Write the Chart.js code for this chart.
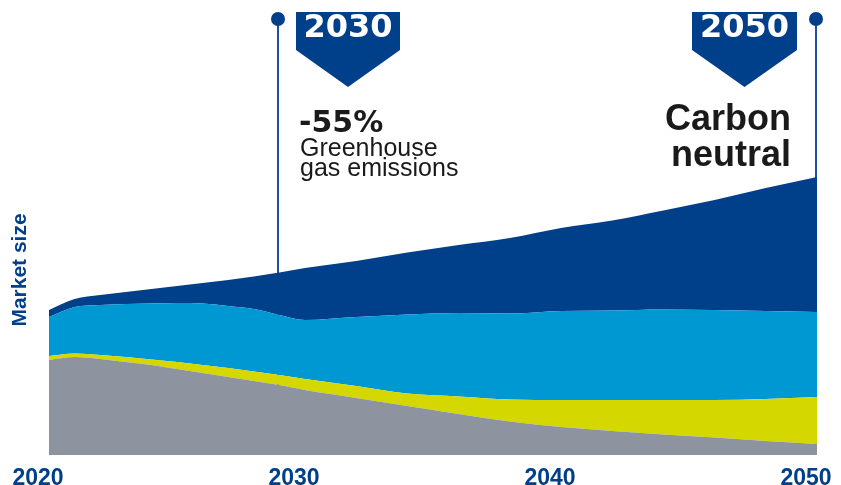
<!DOCTYPE html>
<html>
<head>
<meta charset="utf-8">
<script src="https://cdn.jsdelivr.net/npm/chart.js@4"></script>
<style>
  html, body { margin: 0; padding: 0; background: #ffffff; }
  #wrap { width: 841px; height: 485px; position: relative; }
</style>
</head>
<body>
<div id="wrap"><canvas id="c" width="841" height="485"></canvas></div>
<script>
// ---- data (market size, arbitrary units) ----
const years      = [2020, 2021, 2022, 2023, 2024, 2025, 2026, 2027, 2028, 2029, 2030, 2032, 2034, 2036, 2038, 2040, 2042, 2044, 2046, 2048, 2050];
const greySeries = [95, 98, 96, 93, 90, 86, 82, 78, 74, 70, 65, 57, 49, 41, 33.5, 28, 24, 20.5, 17.5, 14, 11];
const yellowSeries = [4, 3.5, 4, 5, 5.5, 7, 8, 9, 9.5, 10, 11, 12, 12.5, 17.5, 22, 27, 31, 34.5, 37.5, 42, 47];
const lightBlueSeries = [39, 46.5, 50, 53, 56, 59, 61.5, 62, 62.5, 60, 59, 69, 79, 83.5, 86, 89, 89.5, 90.5, 90, 88, 85];
const darkBlueSeries = [7, 8, 10, 12, 14.5, 17, 20.5, 26, 32.5, 42.5, 52, 56, 62, 68, 75.5, 83, 90, 99, 110, 123, 135];
const tickYears  = [2020, 2030, 2040, 2050];
const milestoneYears = [2029, 2050];
const milestoneLabels = ['2030', '2050'];
const axisTitle = 'Market size';

const DARK = 'rgb(0,63,138)';
const toPts = arr => years.map((yr, i) => ({ x: yr, y: arr[i] }));

const annotations = {
  id: 'annotations',
  beforeDatasetsDraw(chart) {
    const ctx = chart.ctx, xs = chart.scales.x, a = chart.chartArea;
    ctx.save();
    ctx.strokeStyle = 'rgb(30,80,160)';
    ctx.lineWidth = 2;
    milestoneYears.forEach(yr => {
      const x = Math.round(xs.getPixelForValue(yr)) - 1;
      ctx.beginPath();
      ctx.moveTo(x, 19);
      ctx.lineTo(x, a.bottom - 2);
      ctx.stroke();
    });
    ctx.restore();
  },
  afterDraw(chart) {
    const ctx = chart.ctx, xs = chart.scales.x;
    ctx.save();
    ctx.fillStyle = DARK;
    milestoneYears.forEach(yr => {
      const x = Math.round(xs.getPixelForValue(yr)) - 1;
      ctx.beginPath();
      ctx.arc(x, 19, 7, 0, Math.PI * 2);
      ctx.fill();
    });
    const badges = [{ l: 296, r: 400, text: milestoneLabels[0] }, { l: 692, r: 797, text: milestoneLabels[1] }];
    badges.forEach(b => {
      const cx = (b.l + b.r) / 2;
      ctx.fillStyle = DARK;
      ctx.beginPath();
      ctx.moveTo(b.l, 12);
      ctx.lineTo(b.r, 12);
      ctx.lineTo(b.r, 50);
      ctx.lineTo(cx, 87);
      ctx.lineTo(b.l, 50);
      ctx.closePath();
      ctx.fill();
      ctx.fillStyle = '#ffffff';
      ctx.font = 'bold 32px "DejaVu Sans"';
      ctx.textAlign = 'center';
      ctx.textBaseline = 'alphabetic';
      ctx.fillText(b.text, cx, 37);
    });
    ctx.fillStyle = '#1a1a1a';
    ctx.textAlign = 'left';
    ctx.font = 'bold 30px "DejaVu Sans"';
    ctx.fillText('-55%', 299, 132);
    ctx.font = '25px "Liberation Sans"';
    ctx.fillText('Greenhouse', 300, 156);
    ctx.fillText('gas emissions', 300, 176);
    ctx.textAlign = 'right';
    ctx.font = 'bold 36px "Liberation Sans"';
    ctx.fillText('Carbon', 791, 130);
    ctx.fillText('neutral', 791, 166);
    ctx.restore();
  }
};

new Chart(document.getElementById('c'), {
  type: 'line',
  data: {
    datasets: [
      { label: 'Grey', data: toPts(greySeries), backgroundColor: 'rgb(141,148,160)', fill: 'origin' },
      { label: 'Yellow', data: toPts(yellowSeries), backgroundColor: 'rgb(212,215,0)', fill: '-1' },
      { label: 'Light blue', data: toPts(lightBlueSeries), backgroundColor: 'rgb(0,152,211)', fill: '-1' },
      { label: 'Dark blue', data: toPts(darkBlueSeries), backgroundColor: DARK, fill: '-1' }
    ]
  },
  options: {
    responsive: false,
    animation: false,
    devicePixelRatio: 1,
    layout: { padding: { top: 85, right: 24, bottom: 0, left: 0 } },
    elements: {
      line: { borderWidth: 0, cubicInterpolationMode: 'monotone' },
      point: { radius: 0 }
    },
    plugins: { legend: { display: false }, tooltip: { enabled: false } },
    scales: {
      x: {
        type: 'linear',
        min: 2020, max: 2050,
        grid: { display: false },
        border: { display: false },
        afterBuildTicks: s => { s.ticks = tickYears.map(v => ({ value: v })); },
        afterFit: s => { s.height = 30; s.paddingLeft = 0; s.paddingRight = 0; },
        ticks: {
          padding: 4,
          labelOffset: -11,
          color: DARK,
          font: { family: '"Liberation Sans"', size: 23, weight: 'bold', lineHeight: 1 },
          callback: v => String(v),
          maxRotation: 0,
          autoSkip: false
        }
      },
      y: {
        stacked: true,
        min: 0, max: 370,
        grid: { display: false },
        border: { display: false },
        ticks: { display: false },
        afterFit: s => { s.width = 49; },
        title: {
          display: true,
          text: axisTitle,
          color: DARK,
          font: { family: '"Liberation Sans"', size: 21, weight: 'bold', lineHeight: 1.2 },
          padding: { top: 8, bottom: 0 }
        }
      }
    }
  },
  plugins: [annotations]
});
</script>
</body>
</html>
